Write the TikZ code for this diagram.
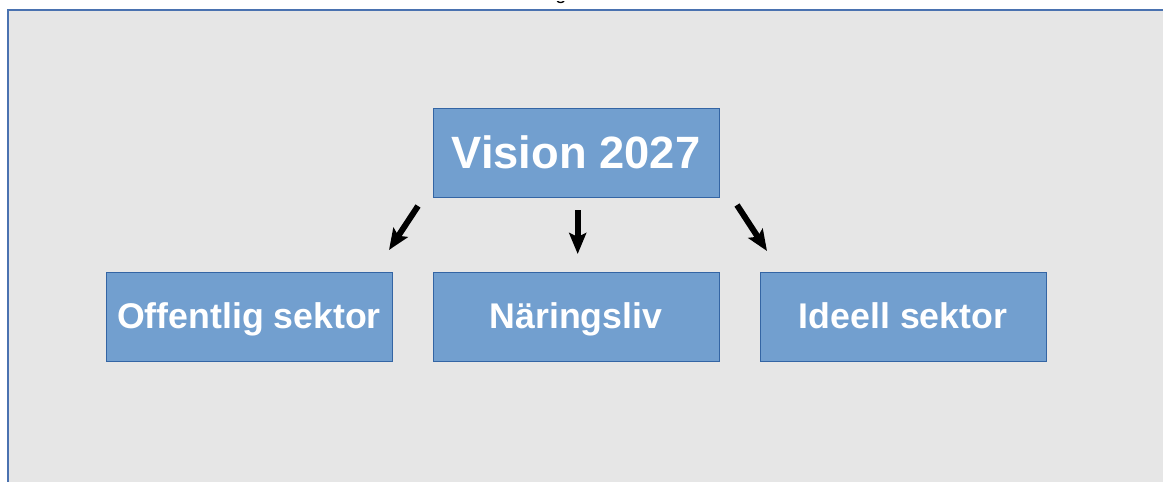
\documentclass[tikz,border=0pt]{standalone}
\usepackage{fontspec}
\setmainfont{Liberation Sans}
\usetikzlibrary{arrows.meta}
\definecolor{boxfill}{HTML}{729FCF}
\definecolor{boxline}{HTML}{3465A4}
\definecolor{bg}{HTML}{E6E6E6}
\definecolor{frameline}{HTML}{4A72B0}
\tikzset{
  box/.style={draw=boxline, line width=1pt, fill=boxfill, minimum width=286pt, minimum height=89pt, inner sep=0pt, text=white, text height=22pt, text depth=0pt, font=\bfseries\fontsize{35.7}{40}\selectfont},
  arr/.style={line width=6pt, -{Stealth[length=21pt,width=17pt,inset=4pt]}, black}
}
\begin{document}
\begin{tikzpicture}[x=1pt,y=-1pt]
\useasboundingbox (0,0) rectangle (1163,482);
\begin{scope}
\clip (0,0) rectangle (1163,482);
\node[anchor=base, inner sep=0pt, font=\fontsize{20}{24}\selectfont] (title) at (561,-1) {g};
\fill[white] (0,0) rectangle (1163,1.2);
\draw[frameline, line width=1.6pt, fill=bg] (8,10) rectangle (1175,495);
\end{scope}
\node[box, text height=30pt, font=\bfseries\fontsize{45.3}{50}\selectfont] (v) at (576,153) {Vision 2027};
\node[box] (o) at (249,317) {Offentlig sektor};
\node[box] (n) at (576,317) {Näringsliv};
\node[box] (i) at (903,317) {Ideell sektor};
\coordinate (a1s) at (418,206);
\coordinate (a1e) at (389,250);
\coordinate (a2s) at (577.7,210);
\coordinate (a2e) at (577.7,254);
\coordinate (a3s) at (737,205);
\coordinate (a3e) at (767,251);
\draw[arr] (a1s) -- (a1e);
\draw[arr] (a2s) -- (a2e);
\draw[arr] (a3s) -- (a3e);
\end{tikzpicture}
\end{document}
